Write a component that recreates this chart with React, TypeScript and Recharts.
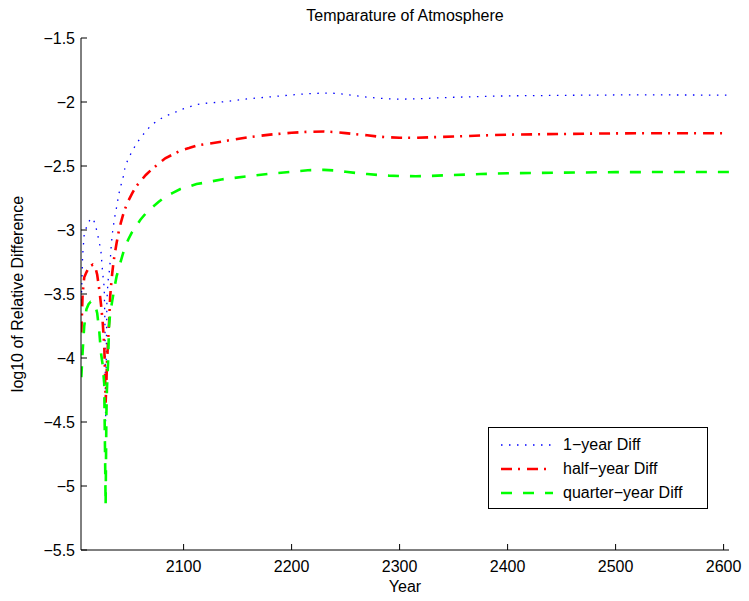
import { LineChart, Line, XAxis, YAxis, Label } from 'recharts';

// sample years (non-uniform, denser in the early dip)
const years = [
  2005.3, 2006.5, 2008, 2010, 2012, 2014, 2016, 2018, 2020, 2022, 2023.5, 2025, 2026.5, 2027.2, 2027.8,
  2028.5, 2029, 2030, 2031, 2032, 2033, 2034, 2035, 2036,
  2038, 2040, 2042, 2044, 2046, 2049, 2052, 2056, 2060, 2065,
  2070, 2077, 2083, 2090, 2097, 2105, 2112, 2120, 2135, 2145,
  2160, 2180, 2200, 2215, 2230, 2240, 2250, 2260, 2270, 2280,
  2290, 2300, 2315, 2330, 2350, 2375, 2400, 2450, 2500, 2550, 2605,
];

const oneYearDiff = [
  -3.55, -3.2, -3.03, -2.98, -2.94, -2.91, -2.91, -2.95, -3.02, -3.1, -3.17, -3.33, -3.45, -3.75, -4.5,
  -3.9, -3.55, -3.4, -3.34, -3.25, -3.12, -3.03, -2.97, -2.91,
  -2.82, -2.72, -2.65, -2.59, -2.5, -2.44, -2.39, -2.33, -2.28, -2.23,
  -2.18, -2.14, -2.11, -2.09, -2.06, -2.04, -2.02, -2.01, -2.0, -1.99,
  -1.975, -1.96, -1.945, -1.935, -1.93, -1.932, -1.94, -1.952, -1.962, -1.97,
  -1.975, -1.978, -1.975, -1.97, -1.963, -1.957, -1.952, -1.948, -1.945, -1.945, -1.946,
];

const halfYearDiff = [
  -3.8, -3.5, -3.37, -3.33, -3.3, -3.28, -3.27, -3.28, -3.35, -3.47, -3.58, -3.71, -3.9, -4.1, -4.35,
  -4.2, -4.05, -3.88, -3.72, -3.52, -3.42, -3.33, -3.26, -3.2,
  -3.1, -3.01, -2.94, -2.88, -2.83, -2.77, -2.72, -2.66, -2.62, -2.57,
  -2.53, -2.48, -2.44, -2.41, -2.38, -2.36, -2.34, -2.33, -2.31, -2.295,
  -2.275, -2.255, -2.24, -2.233, -2.23, -2.235, -2.243, -2.252, -2.26, -2.27,
  -2.276, -2.279, -2.28, -2.275, -2.27, -2.262, -2.255, -2.25, -2.245, -2.244, -2.244,
];

const quarterYearDiff = [
  -4.15, -3.95, -3.75, -3.62, -3.58, -3.56, -3.56, -3.58, -3.65, -3.8, -3.96, -4.05, -4.2, -4.7, -5.15,
  -4.45, -4.25, -4.05, -3.75, -3.65, -3.6, -3.55, -3.5, -3.45,
  -3.36, -3.3, -3.24, -3.18, -3.13, -3.07, -3.02, -2.97, -2.92, -2.87,
  -2.83, -2.78, -2.74, -2.71, -2.68, -2.66, -2.64, -2.63, -2.605, -2.595,
  -2.58, -2.56, -2.545, -2.533, -2.53, -2.535, -2.545, -2.555, -2.563, -2.57,
  -2.575, -2.578, -2.58, -2.577, -2.57, -2.563, -2.557, -2.552, -2.548, -2.547, -2.547,
];

const xTicks = [2100, 2200, 2300, 2400, 2500, 2600];
const yTicks = [-1.5, -2, -2.5, -3, -3.5, -4, -4.5, -5, -5.5];

const data = years.map((year, i) => ({
  year,
  one: oneYearDiff[i],
  half: halfYearDiff[i],
  quarter: quarterYearDiff[i],
}));

const FONT = '"Liberation Sans", Arial, Helvetica, sans-serif';

const series = [
  { key: 'one', name: '1\u2212year Diff', color: '#0000ff', width: 1.3, dash: '1.5 6.5' },
  { key: 'half', name: 'half\u2212year Diff', color: '#ff0000', width: 2.6, dash: '11 6 2 7' },
  { key: 'quarter', name: 'quarter\u2212year Diff', color: '#00ff00', width: 2.6, dash: '11 11' },
];

const fmt = (v: number) => String(v).replace('-', '\u2212');

function BottomTick({ x, y, payload }: any) {
  return (
    <g>
      <line x1={x} x2={x} y1={y} y2={y - 6} stroke="#000" />
      <text x={x} y={y + 22} textAnchor="middle" fontSize={16} fontFamily={FONT} fill="#000">
        {payload.value}
      </text>
    </g>
  );
}

function TopTick({ x, y }: any) {
  return <line x1={x} x2={x} y1={y} y2={y + 6} stroke="#000" />;
}

function LeftTick({ x, y, payload }: any) {
  return (
    <g>
      <line x1={x} x2={x + 6} y1={y} y2={y} stroke="#000" />
      <text x={x - 6} y={y + 6} textAnchor="end" fontSize={16} fontFamily={FONT} fill="#000">
        {fmt(payload.value)}
      </text>
    </g>
  );
}

function RightTick({ x, y }: any) {
  return <line x1={x} x2={x - 6} y1={y} y2={y} stroke="#000" />;
}

function LegendBox() {
  return (
    <div
      style={{
        position: 'absolute',
        left: 488,
        top: 427,
        border: '1px solid #000',
        background: '#fff',
        width: 220,
        height: 82,
        boxSizing: 'border-box',
        padding: '5px 0 0 10px',
        fontFamily: FONT,
        fontSize: 16,
      }}
    >
      {series.map((s) => (
        <div key={s.key} style={{ display: 'flex', alignItems: 'center', height: 24 }}>
          <svg width={56} height={10} style={{ marginRight: 8 }}>
            <line x1={2} x2={54} y1={5} y2={5} stroke={s.color} strokeWidth={s.width} strokeDasharray={s.dash} />
          </svg>
          <span>{s.name}</span>
        </div>
      ))}
    </div>
  );
}

export default function App() {
  return (
    <div style={{ position: 'absolute', left: 0, top: 0, width: 749, height: 601, background: '#fff' }}>
      <div
        style={{
          position: 'absolute',
          left: 0,
          width: 810,
          top: 7,
          textAlign: 'center',
          fontFamily: FONT,
          fontSize: 16,
          color: '#000',
        }}
      >
        Temparature of Atmosphere
      </div>
      <LineChart width={749} height={601} data={data} margin={{ top: 38, right: 20, left: 21, bottom: 21 }}>
        <XAxis
          dataKey="year"
          type="number"
          domain={[2005, 2605]}
          ticks={xTicks}
          allowDataOverflow
          height={30}
          tickSize={0}
          tickMargin={0}
          tick={<BottomTick />}
          axisLine={{ stroke: '#000' }}
          interval={0}
        >
          <Label value="Year" position="bottom" offset={1} fontSize={16} fontFamily={FONT} fill="#000" />
        </XAxis>
        <XAxis
          xAxisId="top"
          dataKey="year"
          type="number"
          orientation="top"
          domain={[2005, 2605]}
          ticks={xTicks}
          allowDataOverflow
          height={0}
          tickSize={0}
          tickMargin={0}
          tick={<TopTick />}
          axisLine={{ stroke: '#000' }}
          interval={0}
        />
        <YAxis
          type="number"
          domain={[-5.5, -1.5]}
          ticks={yTicks}
          allowDataOverflow
          width={60}
          tickSize={0}
          tickMargin={0}
          tick={<LeftTick />}
          axisLine={{ stroke: '#000' }}
          interval={0}
        >
          <Label
            value="log10 of Relative Difference"
            angle={-90}
            position="insideLeft"
            offset={-4}
            style={{ textAnchor: 'middle' }}
            fontSize={16}
            fontFamily={FONT}
            fill="#000"
          />
        </YAxis>
        <YAxis
          yAxisId="right"
          orientation="right"
          type="number"
          domain={[-5.5, -1.5]}
          ticks={yTicks}
          allowDataOverflow
          width={0}
          tickSize={0}
          tickMargin={0}
          tick={<RightTick />}
          axisLine={{ stroke: '#000' }}
          interval={0}
        />
        {series.map((s) => (
          <Line
            key={s.key}
            type="linear"
            dataKey={s.key}
            name={s.name}
            stroke={s.color}
            strokeWidth={s.width}
            strokeDasharray={s.dash}
            dot={false}
            activeDot={false}
            isAnimationActive={false}
          />
        ))}
      </LineChart>
      <LegendBox />
    </div>
  );
}
